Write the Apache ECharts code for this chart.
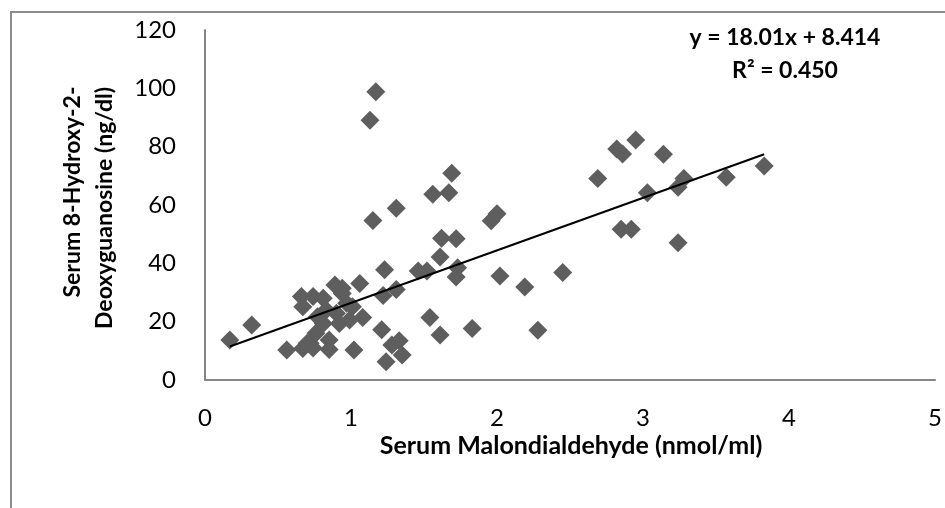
<!DOCTYPE html>
<html>
<head>
<meta charset="utf-8">
<script src="https://cdn.jsdelivr.net/npm/echarts@6/dist/echarts.min.js"></script>
<style>
html,body{margin:0;padding:0;background:#fff;}
#chart{width:945px;height:508px;}
</style>
</head>
<body>
<div id="chart"></div>
<script>
// Serum Malondialdehyde (nmol/ml)
const mdaValues = [
  0.17, 0.32, 0.56, 0.66, 0.74, 0.67, 0.81, 0.89, 0.94, 1.06,
  0.97, 0.83, 0.77, 0.90, 1.01, 1.08, 0.81, 0.92, 0.99, 0.76,
  0.85, 0.72, 0.67, 0.74, 0.85, 1.02, 1.21, 1.28, 1.33, 1.35,
  1.24, 1.22, 1.31, 1.23, 1.15, 1.31, 1.13, 1.17, 1.46, 1.52,
  1.54, 1.61, 1.61, 1.62, 1.72, 1.73, 1.72, 1.56, 1.67, 1.69,
  1.83, 1.96, 2.00, 2.02, 2.19, 2.28, 2.45, 2.69, 2.82, 2.86,
  2.95, 3.14, 2.85, 2.92, 3.03, 3.24, 3.28, 3.24, 3.57, 3.83,
  0.70, 0.94
];
// Serum 8-Hydroxy-2-Deoxyguanosine (ng/dl)
const ohdgValues = [
  13.7, 18.9, 10.3, 28.6, 28.6, 25.1, 28.0, 32.6, 29.7, 33.1,
  26.3, 24.0, 21.7, 22.9, 25.1, 21.4, 19.4, 19.4, 20.6, 16.0,
  13.7, 12.6, 10.8, 11.0, 10.5, 10.3, 17.2, 12.0, 13.5, 8.6,
  6.3, 29.0, 31.0, 37.8, 54.7, 58.9, 89.1, 98.8, 37.4, 37.4,
  21.4, 15.4, 42.2, 48.6, 48.4, 38.5, 35.3, 63.7, 64.2, 70.9,
  17.7, 54.6, 57.0, 35.7, 31.9, 17.1, 36.9, 69.1, 79.2, 77.5,
  82.3, 77.4, 51.7, 51.7, 64.2, 66.1, 69.1, 47.1, 69.5, 73.4,
  12.6, 31.5
];
const fitSlope = 18.01;
const fitIntercept = 8.414;
const fitR2 = 0.450;
const xTicks = [0, 1, 2, 3, 4, 5];
const yTicks = [0, 20, 40, 60, 80, 100, 120];

const points = mdaValues.map((x, i) => [x, ohdgValues[i]]);
const xMin = Math.min(...mdaValues), xMax = Math.max(...mdaValues);
const fitLine = [[xMin, fitSlope * xMin + fitIntercept], [xMax, fitSlope * xMax + fitIntercept]];

const FONT = 'Lato';
const chart = echarts.init(document.getElementById('chart'), null, {renderer: 'canvas'});
chart.setOption({
  backgroundColor: '#ffffff',
  animation: false,
  grid: {left: 205, top: 30, right: 8, bottom: 128, containLabel: false},
  xAxis: {
    type: 'value', min: xTicks[0], max: xTicks[xTicks.length - 1], interval: 1,
    axisLine: {show: true, onZero: false, lineStyle: {color: '#868686', width: 2}},
    axisTick: {show: false},
    splitLine: {show: false},
    axisLabel: {color: '#000', fontFamily: FONT, fontSize: 24, margin: 26, showMaxLabel: true, showMinLabel: true},
  },
  yAxis: {
    type: 'value', min: yTicks[0], max: yTicks[yTicks.length - 1], interval: 20,
    axisLine: {show: true, lineStyle: {color: '#868686', width: 2}},
    axisTick: {show: false},
    splitLine: {show: false},
    axisLabel: {color: '#000', fontFamily: FONT, fontSize: 24, margin: 29},
  },
  series: [
    {
      type: 'scatter', data: points, symbol: 'diamond', symbolSize: 19,
      itemStyle: {color: '#5e5e5e', opacity: 1}, z: 2
    },
    {
      type: 'line', data: fitLine, symbol: 'none',
      lineStyle: {color: '#000', width: 2}, z: 3
    }
  ],
  graphic: [
    {type: 'rect', silent: true, z: -1, shape: {x: 11, y: 12, width: 960, height: 600},
      style: {fill: 'none', stroke: '#8c8c8c', lineWidth: 2}},
    {type: 'text', x: 571, y: 446,
      style: {text: 'Serum Malondialdehyde (nmol/ml)', font: 'bold 25px ' + FONT, fill: '#000', textAlign: 'center', textVerticalAlign: 'middle'}},
    {type: 'text', rotation: Math.PI / 2, x: 73, y: 192,
      style: {text: 'Serum 8-Hydroxy-2-', font: 'bold 23px ' + FONT, fill: '#000', textAlign: 'center', textVerticalAlign: 'middle'}},
    {type: 'text', rotation: Math.PI / 2, x: 105, y: 208,
      style: {text: 'Deoxyguanosine (ng/dl)', font: 'bold 23px ' + FONT, fill: '#000', textAlign: 'center', textVerticalAlign: 'middle'}},
    {type: 'text', x: 785, y: 38,
      style: {text: 'y = ' + fitSlope.toFixed(2) + 'x + ' + fitIntercept.toFixed(3), font: 'bold 23px ' + FONT, fill: '#000', textAlign: 'center', textVerticalAlign: 'middle'}},
    {type: 'text', x: 785, y: 71,
      style: {text: 'R² = ' + fitR2.toFixed(3), font: 'bold 23px ' + FONT, fill: '#000', textAlign: 'center', textVerticalAlign: 'middle'}}
  ]
});
</script>
</body>
</html>
